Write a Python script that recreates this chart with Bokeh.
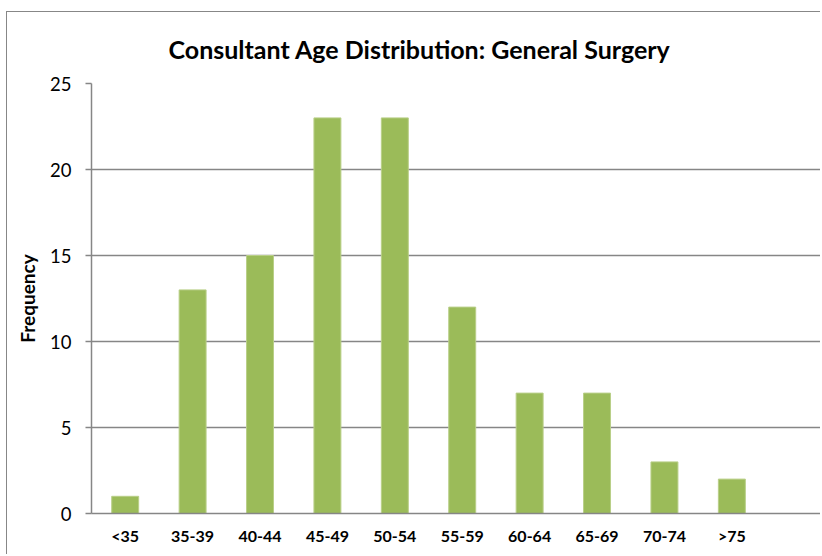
from bokeh.plotting import figure
from bokeh.models import Range1d, FixedTicker
from bokeh.embed import file_html
from bokeh.resources import INLINE

categories = ["<35", "35-39", "40-44", "45-49", "50-54", "55-59", "60-64", "65-69", "70-74", ">75"]
frequency = [1, 13, 15, 23, 23, 12, 7, 7, 3, 2]
y_ticks = [0, 5, 10, 15, 20, 25]

FONT = "Lato"
GRID = "#868686"

xs = [i + 0.5 for i in range(len(categories))]

p = figure(width=814, height=543, output_backend="svg", toolbar_location=None,
           x_range=Range1d(0, 10.83), y_range=Range1d(0, 25),
           min_border_left=84, min_border_right=0, min_border_top=71, min_border_bottom=42)

p.vbar(x=xs, top=frequency, width=0.4, fill_color="#9BBB59", line_color="#B9CF88", line_width=1)

p.title.text = "Consultant Age Distribution: General Surgery"
p.title.text_font = FONT
p.title.text_font_style = "bold"
p.title.text_font_size = "25px"
p.title.align = "left"
p.title.offset = 77
p.title.standoff = 39
p.title.text_color = "#000000"

p.outline_line_color = None
p.background_fill_color = "white"
p.border_fill_color = "white"

p.xgrid.grid_line_color = None
p.ygrid.grid_line_color = GRID
p.ygrid.grid_line_width = 1.5
p.ygrid.ticker = FixedTicker(ticks=y_ticks)

p.yaxis.ticker = FixedTicker(ticks=y_ticks)
p.yaxis.axis_line_color = GRID
p.yaxis.axis_line_width = 1.5
p.yaxis.major_tick_line_color = GRID
p.yaxis.major_tick_line_width = 1.5
p.yaxis.major_tick_out = 6
p.yaxis.major_tick_in = 0
p.yaxis.minor_tick_line_color = None
p.yaxis.major_label_standoff = 14
p.yaxis.major_label_text_font = FONT
p.yaxis.major_label_text_font_size = "18.5px"
p.yaxis.major_label_text_color = "#000000"
p.yaxis.axis_label = "Frequency"
p.yaxis.axis_label_text_font = FONT
p.yaxis.axis_label_text_font_style = "bold"
p.yaxis.axis_label_text_font_size = "19px"
p.yaxis.axis_label_text_color = "#000000"
p.yaxis.axis_label_standoff = 8

p.xaxis.ticker = FixedTicker(ticks=xs)
p.xaxis.major_label_overrides = {x: c for x, c in zip(xs, categories)}
p.xaxis.axis_line_color = GRID
p.xaxis.axis_line_width = 1.5
p.xaxis.major_tick_line_color = None
p.xaxis.major_tick_out = 0
p.xaxis.minor_tick_line_color = None
p.xaxis.major_label_standoff = 12
p.xaxis.major_label_text_font = FONT
p.xaxis.major_label_text_font_style = "bold"
p.xaxis.major_label_text_font_size = "16px"
p.xaxis.major_label_text_color = "#000000"

p.styles = {"margin-left": "6px", "margin-top": "11px",
            "border-left": "1.5px solid #878787", "border-top": "1.5px solid #878787"}

open("out.html", "w").write(file_html(p, INLINE))
